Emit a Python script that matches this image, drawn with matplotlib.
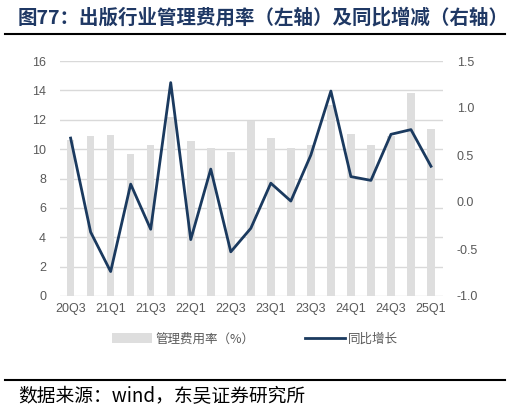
import numpy as np
import matplotlib
matplotlib.use('Agg')
import matplotlib.pyplot as plt
from matplotlib.lines import Line2D
from matplotlib.patches import Patch

plt.rcParams['font.family'] = ['Noto Sans CJK SC', 'DejaVu Sans']

# quarters 20Q3 .. 25Q1
quarters = ['20Q3', '20Q4', '21Q1', '21Q2', '21Q3', '21Q4', '22Q1', '22Q2', '22Q3', '22Q4',
            '23Q1', '23Q2', '23Q3', '23Q4', '24Q1', '24Q2', '24Q3', '24Q4', '25Q1']
expense_ratio = [10.6, 10.9, 10.95, 9.7, 10.3, 12.2, 10.55, 10.05, 9.8, 11.9,
                 10.75, 10.05, 10.3, 13.0, 11.0, 10.3, 10.9, 13.85, 11.4]
yoy_change = [0.68, -0.32, -0.74, 0.19, -0.29, 1.27, -0.40, 0.35, -0.53, -0.28,
              0.20, 0.01, 0.50, 1.18, 0.27, 0.23, 0.72, 0.77, 0.38]

navy = '#1b3a5f'
bar_grey = '#dedede'
text_grey = '#595959'
tick_font = 'Liberation Sans'

W, H = 510, 413
fig = plt.figure(figsize=(W / 100, H / 100), dpi=100)

ax = fig.add_axes([60 / W, 1 - 296 / H, (443 - 60) / W, (296 - 61) / H])
x = np.arange(len(quarters))
ax.bar(x, expense_ratio, width=0.38, color=bar_grey, zorder=2)
ax.set_ylim(0, 16)
ax.set_yticks(range(0, 17, 2))
ax.set_xlim(-0.53, 18.6)
ax.set_xticks(x[::2])
ax.set_xticklabels(quarters[::2])
ax.grid(axis='y', color='#d9d9d9', linewidth=1, zorder=0)
ax.set_axisbelow(True)
for s in ax.spines.values():
    s.set_visible(False)
ax.tick_params(axis='both', length=0, labelsize=9, colors=text_grey)
ax.tick_params(axis='y', pad=10)
ax.tick_params(axis='x', pad=5)

ax2 = ax.twinx()
ax2.plot(x, yoy_change, color=navy, linewidth=2, zorder=3)
ax2.set_ylim(-1.0, 1.5)
ax2.set_yticks(np.arange(-1.0, 1.51, 0.5))
ax2.set_yticklabels([f'{v:.1f}' for v in np.arange(-1.0, 1.51, 0.5)])
for s in ax2.spines.values():
    s.set_visible(False)
ax2.tick_params(axis='y', length=0, labelsize=9, colors=text_grey, pad=10)

for lab in ax.get_xticklabels() + ax.get_yticklabels() + ax2.get_yticklabels():
    lab.set_fontfamily(tick_font)

# title and rules
fig.text(18 / W, 1 - 18 / H, '图77：出版行业管理费用率（左轴）及同比增减（右轴）',
         fontsize=14, fontweight='bold', color='#1f3864', va='center', ha='left')
fig.add_artist(Line2D([5 / W, 505 / W], [1 - 34 / H, 1 - 34 / H], color='black', linewidth=1.5))
fig.add_artist(Line2D([5 / W, 505 / W], [1 - 380 / H, 1 - 380 / H], color='black', linewidth=1.5))
fig.text(18 / W, 1 - 397 / H, '数据来源：wind，东吴证券研究所',
         fontsize=13.5, color='black', va='center', ha='left')

# legend
handles = [Patch(facecolor=bar_grey, edgecolor='none'),
           Line2D([0], [0], color=navy, linewidth=2)]
fig.legend(handles, ['管理费用率（%）', '同比增长'], loc='center',
           bbox_to_anchor=(0.5, 1 - 339 / H), ncol=2, frameon=False,
           fontsize=9, labelcolor=text_grey, handlelength=3.2, handleheight=0.8,
           columnspacing=4, handletextpad=0.3)

fig.savefig('out.png', dpi=100)
